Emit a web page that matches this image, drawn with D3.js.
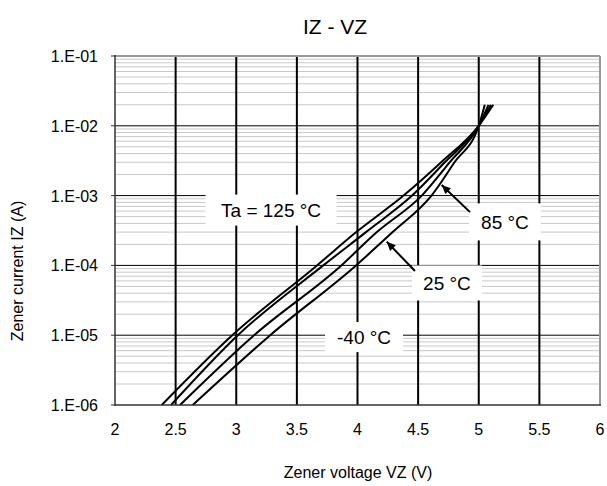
<!DOCTYPE html>
<html>
<head>
<meta charset="utf-8">
<title>IZ - VZ</title>
<script src="https://cdn.jsdelivr.net/npm/d3@7"></script>
<style>
  body { margin: 0; background: #fff; }
  svg text { font-family: "Liberation Sans", Arial, sans-serif; fill: #000; }
</style>
</head>
<body>
<svg id="chart" width="607" height="486"></svg>
<script>
var currents = [1e-6, 1e-5, 1e-4, 3e-4, 1e-3, 3e-3, 1e-2, 2e-2];
var vz125 = [2.385, 2.967, 3.666, 3.99, 4.38, 4.69, 5.0, 5.12];
var vz85  = [2.462, 3.013, 3.718, 4.07, 4.45, 4.72, 5.0, 5.10];
var vz25  = [2.536, 3.147, 3.867, 4.16, 4.53, 4.76, 5.0, 5.08];
var vzM40 = [2.641, 3.280, 3.988, 4.29, 4.61, 4.80, 5.0, 5.05];

var xTicks = [2, 2.5, 3, 3.5, 4, 4.5, 5, 5.5, 6];
var yTicks = [1e-6, 1e-5, 1e-4, 1e-3, 1e-2, 1e-1];
var yTickLabels = ["1.E-06", "1.E-05", "1.E-04", "1.E-03", "1.E-02", "1.E-01"];

var series = [vz125, vz85, vz25, vzM40];

// annotation boxes (data coords) and arrows
var notes = [
  { text: "Ta = 125 \u00B0C", v: 3.287, i: 6.2e-4, w: 131, h: 31 },
  { text: "85 \u00B0C", v: 5.216, i: 4.2e-4, w: 72, h: 37, from: [4.928, 5.8e-4], to: [4.694, 1.42e-3] },
  { text: "25 \u00B0C", v: 4.738, i: 5.6e-5, w: 70, h: 35, from: [4.474, 8.3e-5], to: [4.241, 2.19e-4] },
  { text: "-40 \u00B0C", v: 4.054, i: 9.4e-6, w: 78, h: 30 }
];

var svg = d3.select("#chart");
var pLeft = 115, pRight = 600, pTop = 56, pBottom = 405;

var x = d3.scaleLinear().domain([2, 6]).range([pLeft, pRight]);
var y = d3.scaleLog().domain([1e-6, 1e-1]).range([pBottom, pTop]);

var grid = svg.append("g");

// minor horizontal grid
var minors = [];
for (var d = -6; d < -1; d++) {
  for (var k = 2; k <= 9; k++) minors.push(k * Math.pow(10, d));
}
grid.selectAll(".minor").data(minors).enter().append("line")
  .attr("x1", pLeft).attr("x2", pRight)
  .attr("y1", function(d) { return y(d); }).attr("y2", function(d) { return y(d); })
  .attr("stroke", "#c8c8c8").attr("stroke-width", 1);

// major horizontal
grid.selectAll(".hmaj").data(yTicks.slice(1, -1)).enter().append("line")
  .attr("x1", pLeft).attr("x2", pRight)
  .attr("y1", function(d) { return y(d); }).attr("y2", function(d) { return y(d); })
  .attr("stroke", "#000").attr("stroke-width", 1);

// major vertical
grid.selectAll(".vmaj").data(xTicks.slice(1, -1)).enter().append("line")
  .attr("y1", pTop).attr("y2", pBottom)
  .attr("x1", function(d) { return x(d); }).attr("x2", function(d) { return x(d); })
  .attr("stroke", "#000").attr("stroke-width", 2);

// curves
var line = d3.line()
  .x(function(d) { return x(d[0]); })
  .y(function(d) { return y(d[1]); })
  .curve(d3.curveMonotoneX);

svg.selectAll(".curve").data(series).enter().append("path")
  .attr("d", function(s) { return line(s.map(function(v, j) { return [v, currents[j]]; })); })
  .attr("fill", "none").attr("stroke", "#000").attr("stroke-width", 2);

// frame
svg.append("line").attr("x1", pLeft).attr("x2", pRight).attr("y1", pTop).attr("y2", pTop)
  .attr("stroke", "#999").attr("stroke-width", 2);
svg.append("line").attr("x1", pRight).attr("x2", pRight).attr("y1", pTop).attr("y2", pBottom)
  .attr("stroke", "#999").attr("stroke-width", 2);
svg.append("line").attr("x1", pLeft).attr("x2", pLeft).attr("y1", pTop - 1).attr("y2", pBottom + 1)
  .attr("stroke", "#333").attr("stroke-width", 1.5);
svg.append("line").attr("x1", pLeft).attr("x2", pRight + 1).attr("y1", pBottom).attr("y2", pBottom)
  .attr("stroke", "#333").attr("stroke-width", 1.5);

// y ticks
svg.selectAll(".ytick").data(yTicks).enter().append("line")
  .attr("x1", pLeft - 4).attr("x2", pLeft)
  .attr("y1", function(d) { return y(d); }).attr("y2", function(d) { return y(d); })
  .attr("stroke", "#333");

// annotation boxes
var ng = svg.selectAll(".note").data(notes).enter().append("g");
ng.append("rect")
  .attr("x", function(d) { return x(d.v) - d.w / 2; })
  .attr("y", function(d) { return y(d.i) - d.h / 2; })
  .attr("width", function(d) { return d.w; })
  .attr("height", function(d) { return d.h; })
  .attr("fill", "#fff");
ng.append("text")
  .attr("x", function(d) { return x(d.v); })
  .attr("y", function(d) { return y(d.i) + 7; })
  .attr("text-anchor", "middle").attr("font-size", 19)
  .text(function(d) { return d.text; });

// arrows
var arrows = notes.filter(function(d) { return d.from; });
svg.selectAll(".arrow").data(arrows).enter().append("line")
  .attr("x1", function(d) { return x(d.from[0]); })
  .attr("y1", function(d) { return y(d.from[1]); })
  .attr("x2", function(d) { return x(d.to[0]); })
  .attr("y2", function(d) { return y(d.to[1]); })
  .attr("stroke", "#000").attr("stroke-width", 2);
svg.selectAll(".head").data(arrows).enter().append("path")
  .attr("d", function(d) {
    var x1 = x(d.from[0]), y1 = y(d.from[1]), x2 = x(d.to[0]), y2 = y(d.to[1]);
    var a = Math.atan2(y2 - y1, x2 - x1);
    var L = 9, W = 4;
    var bx = x2 - L * Math.cos(a), by = y2 - L * Math.sin(a);
    return "M" + x2 + "," + y2 +
      "L" + (bx + W * Math.sin(a)) + "," + (by - W * Math.cos(a)) +
      "L" + (bx - W * Math.sin(a)) + "," + (by + W * Math.cos(a)) + "Z";
  })
  .attr("fill", "#000");

// tick labels
svg.selectAll(".xl").data(xTicks).enter().append("text")
  .attr("x", function(d) { return x(d); }).attr("y", 435)
  .attr("text-anchor", "middle").attr("font-size", 16)
  .text(function(d) { return d; });

svg.selectAll(".yl").data(yTicks).enter().append("text")
  .attr("x", 98).attr("y", function(d) { return y(d) + 6; })
  .attr("text-anchor", "end").attr("font-size", 16)
  .text(function(d, i) { return yTickLabels[i]; });

// titles
svg.append("text").attr("x", 335).attr("y", 34)
  .attr("text-anchor", "middle").attr("font-size", 21).text("IZ - VZ");
svg.append("text").attr("x", 358).attr("y", 478)
  .attr("text-anchor", "middle").attr("font-size", 16).text("Zener voltage VZ (V)");
svg.append("text")
  .attr("transform", "translate(23,271) rotate(-90)")
  .attr("text-anchor", "middle").attr("font-size", 16).text("Zener current IZ (A)");
</script>
</body>
</html>
